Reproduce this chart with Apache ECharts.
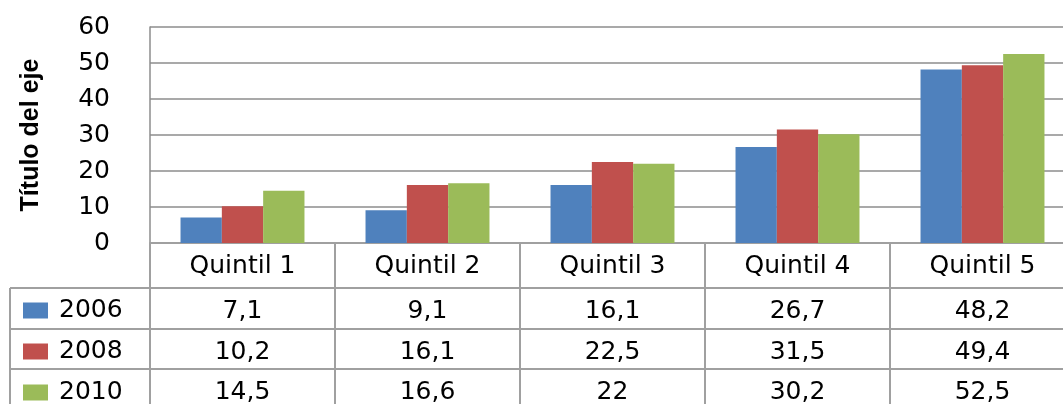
<!DOCTYPE html>
<html><head><meta charset="utf-8">
<script src="https://cdn.jsdelivr.net/npm/echarts@6/dist/echarts.min.js"></script>
<style>html,body{margin:0;padding:0;background:#fff}#c{width:1063px;height:404px}</style>
</head><body><div id="c"></div>
<script>
var categories = ['Quintil 1','Quintil 2','Quintil 3','Quintil 4','Quintil 5'];
var years = ['2006','2008','2010'];
var s2006 = [7.1, 9.1, 16.1, 26.7, 48.2];
var s2008 = [10.2, 16.1, 22.5, 31.5, 49.4];
var s2010 = [14.5, 16.6, 22, 30.2, 52.5];
var yTicks = [0,10,20,30,40,50,60];
var colors = ['#4F81BD','#C0504D','#9BBB59'];
var seriesData = [s2006, s2008, s2010];

var FONT = 'DejaVu Sans';
var FS = 25;
var GRID_LEFT = 150, GRID_TOP = 27, GRID_H = 216;
var ROW_OFFSETS = [45, 86, 126];
var LINE = '#a0a0a0';

function fmt(v){ return String(v).replace('.', ','); }

var xAxes = [{
  type: 'category', data: categories, position: 'bottom', gridIndex: 0,
  axisLine: {show: true, lineStyle: {color: LINE, width: 2}},
  axisTick: {show: true, length: 161, lineStyle: {color: LINE, width: 2}},
  axisLabel: {color: '#000', fontFamily: FONT, fontSize: FS, margin: 11, interval: 0}
}];
seriesData.forEach(function(arr, i){
  xAxes.push({
    type: 'category', data: categories, position: 'bottom', offset: ROW_OFFSETS[i], gridIndex: 0,
    axisLine: {show: true, lineStyle: {color: LINE, width: 2}},
    axisTick: {show: false},
    axisLabel: {color: '#000', fontFamily: FONT, fontSize: FS, margin: 11, interval: 0,
      formatter: function(val, idx){ return fmt(arr[idx]); }}
  });
});

var chart = echarts.init(document.getElementById('c'));
var lineStyle = {stroke: LINE, lineWidth: 2};
var tableTop = GRID_TOP + GRID_H;
var graphics = ROW_OFFSETS.map(function(o){
  return {type: 'line', shape: {x1: 10, y1: tableTop + o, x2: GRID_LEFT, y2: tableTop + o}, style: lineStyle};
});
graphics.push({type: 'line', shape: {x1: 10, y1: tableTop + ROW_OFFSETS[0], x2: 10, y2: 404}, style: lineStyle});

chart.setOption({
  animation: false,
  color: colors,
  grid: {left: GRID_LEFT, top: GRID_TOP, right: -12, height: GRID_H, containLabel: false, outerBoundsMode: 'none'},
  legend: {
    orient: 'vertical', left: 23, top: 298, height: 200, itemWidth: 25, itemHeight: 16, itemGap: 16,
    icon: 'rect', data: years, padding: 0,
    textStyle: {color: '#000', fontFamily: FONT, fontSize: FS, lineHeight: 25, padding: [0, 0, 0, 6]}
  },
  xAxis: xAxes,
  yAxis: {
    type: 'value', min: yTicks[0], max: yTicks[yTicks.length-1], interval: 10,
    name: 'Título del eje', nameLocation: 'middle', nameRotate: 90, nameGap: 106,
    nameTextStyle: {color: '#000', fontFamily: 'Liberation Sans', fontWeight: 'bold', fontSize: 25},
    axisLine: {show: true, lineStyle: {color: '#8c8c8c', width: 1.5}},
    axisTick: {show: false},
    splitLine: {lineStyle: {color: '#8c8c8c', width: 1.5}},
    axisLabel: {color: '#000', fontFamily: FONT, fontSize: FS, margin: 40}
  },
  series: seriesData.map(function(arr, i){
    return {name: years[i], type: 'bar', data: arr, barGap: '0%', barCategoryGap: '33%',
      xAxisIndex: 0, itemStyle: {color: colors[i]}};
  }),
  graphic: graphics
});
</script></body></html>
